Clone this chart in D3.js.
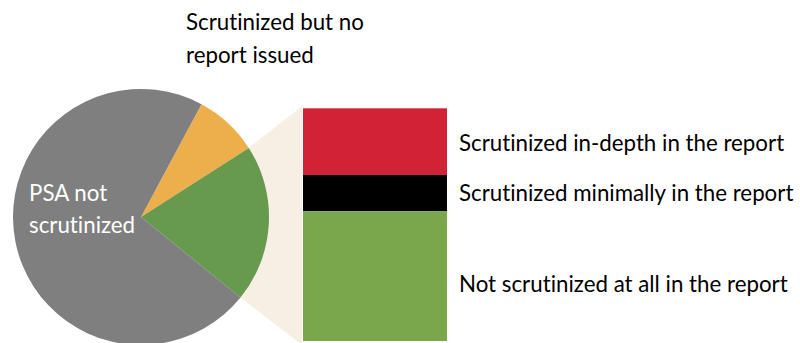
<!DOCTYPE html>
<html>
<head>
<meta charset="utf-8">
<script src="https://cdn.jsdelivr.net/npm/d3@7"></script>
<style>
  html, body { margin: 0; padding: 0; background: #fff; }
  svg { display: block; }
  text { font-family: Lato, "Open Sans", sans-serif; font-variant-ligatures: none; }
</style>
</head>
<body>
<svg id="chart" width="800" height="343"></svg>
<script>
// ---- data ----
const pieCategories = ["Scrutinized but no report issued", "Scrutinized in a report", "PSA not scrutinized"];
const pieValues = [8.1, 19.9, 72.0];
const barCategories = ["Scrutinized in-depth in the report", "Scrutinized minimally in the report", "Not scrutinized at all in the report"];
const barValues = [5.7, 3.1, 11.1];

const pieColors = ["#EDAF4B", "#679A4F", "#7F7F7F"];
const barColors = ["#D02436", "#000000", "#7AA64C"];

const svg = d3.select("#chart");
const cx = 141, cy = 217, r = 128;
const startA = 28.2 * Math.PI / 180;

const pie = d3.pie().sort(null).value(d => d)
  .startAngle(startA).endAngle(startA + 2 * Math.PI);
const arcs = pie(pieValues);
const arc = d3.arc().innerRadius(0).outerRadius(r);

// bar geometry
const barX0 = 303, barX1 = 447;
const barTotal = d3.sum(barValues);
const y = d3.scaleLinear().domain([0, barTotal]).range([108.3, 341]);

// connector (beige)
const g = arcs[1];
const pt = a => [cx + r * Math.sin(a), cy - r * Math.cos(a)];
const p1 = pt(g.startAngle), p2 = pt(g.endAngle);
svg.append("polygon")
  .attr("points", [p1, [barX0 - 1, y(0) - 2.3], [barX0 - 1, y(barTotal) + 4], p2, [cx, cy]].map(p => p.join(",")).join(" "))
  .attr("fill", "#F7EFE3");

// pie
svg.append("g").attr("transform", `translate(${cx},${cy})`)
  .selectAll("path").data(arcs).join("path")
  .attr("d", arc)
  .attr("fill", (d, i) => pieColors[i]);

// bar stack
let acc = 0;
const stack = barValues.map(v => { const s = { y0: acc, y1: acc + v }; acc += v; return s; });
svg.append("g").selectAll("rect").data(stack).join("rect")
  .attr("x", barX0).attr("width", barX1 - barX0)
  .attr("y", d => y(d.y0)).attr("height", d => y(d.y1) - y(d.y0))
  .attr("fill", (d, i) => barColors[i]);

// labels
const fs = 22.3;
const topLabel = svg.append("text").attr("x", 186).attr("y", 30).attr("font-size", fs).attr("fill", "#000");
topLabel.append("tspan").attr("x", 186).text("Scrutinized but no");
topLabel.append("tspan").attr("x", 186).attr("dy", 33).text("report issued");

const psa = svg.append("text").attr("x", 29).attr("y", 201).attr("font-size", fs).attr("fill", "#fff");
psa.append("tspan").attr("x", 29).text("PSA not");
psa.append("tspan").attr("x", 29).attr("dy", 32).text("scrutinized");

const labelY = [151, 201, 292];
svg.append("g").selectAll("text").data(barCategories).join("text")
  .attr("x", 459).attr("y", (d, i) => labelY[i])
  .attr("font-size", fs).attr("fill", "#000")
  .text(d => d);
</script>
</body>
</html>
